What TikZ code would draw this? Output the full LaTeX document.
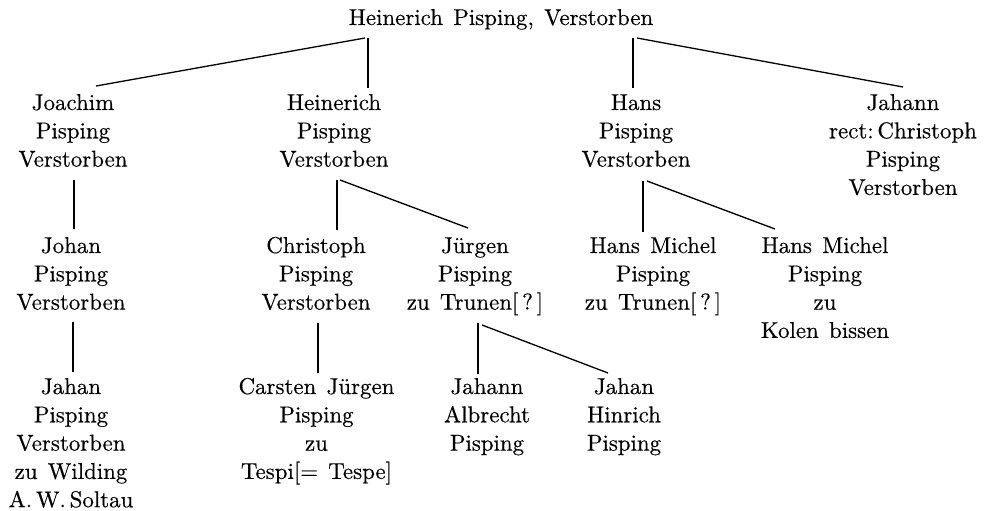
\documentclass[tikz,border=0pt]{standalone}
\usepackage{fontspec}
\setmainfont{lmroman10-regular.otf}[WordSpace=1.35,FakeBold=0.4]
\usetikzlibrary{calc}
\begin{document}
\begin{tikzpicture}[x=1pt,y=1pt,
  person/.style={anchor=base, align=center, inner sep=0pt, font=\fontsize{22.9}{28.3}\selectfont},
  link/.style={line width=1.3pt}]
\useasboundingbox (0,0) rectangle (989,-511);
% level 0 (node positions are at the baseline of the last line)
\node[person] (root) at (501,-25) {Heinerich Pisping, Verstorben};
% level 1
\node[person] (joachim) at (73,-166.6) {Joachim\\Pisping\\Verstorben};
\node[person] (heinerich) at (334,-166.6) {Heinerich\\Pisping\\Verstorben};
\node[person] (hans) at (636,-166.6) {Hans\\Pisping\\Verstorben};
\node[person] (jahann) at (903,-194.9) {Jahann\\rect:\,Christoph\\Pisping\\Verstorben};
% level 2
\node[person] (johan) at (71,-309.6) {Johan\\Pisping\\Verstorben};
\node[person] (christoph) at (316,-309.6) {Christoph\\Pisping\\Verstorben};
\node[person] (juergen) at (475,-309.6) {Jürgen\\Pisping\\zu Trunen[\,?\,]};
\node[person] (hmone) at (653,-309.6) {Hans Michel\\Pisping\\zu Trunen[\,?\,]};
\node[person] (hmtwo) at (825,-337.9) {Hans Michel\\Pisping\\zu\\Kolen bissen};
% level 3
\node[person] (jahan) at (71,-507.2) {Jahan\\Pisping\\Verstorben\\zu Wilding\\A.\,W.\,Soltau};
\node[person] (carsten) at (316.5,-478.9) {Carsten Jürgen\\Pisping\\zu\\Tespi[= Tespe]};
\node[person] (albrecht) at (487,-450.6) {Jahann\\Albrecht\\Pisping};
\node[person] (hinrich) at (624,-450.6) {Jahan\\Hinrich\\Pisping};
% connectors
\draw[link] ($(root.base)+(-136,-13)$) -- ($(joachim.base)+(23,80.6)$);
\draw[link] ($(root.base)+(-133,-13)$) -- ($(heinerich.base)+(34,78.6)$);
\draw[link] ($(root.base)+(132,-13)$) -- ($(hans.base)+(-3,78.6)$);
\draw[link] ($(root.base)+(136,-13)$) -- ($(jahann.base)+(0,107.9)$);
\draw[link] ($(joachim.base)+(1,-13.4)$) -- ($(johan.base)+(3,80.6)$);
\draw[link] ($(heinerich.base)+(3,-13.4)$) -- ($(christoph.base)+(21,79.6)$);
\draw[link] ($(heinerich.base)+(6,-13.4)$) -- ($(juergen.base)+(-7,81.6)$);
\draw[link] ($(hans.base)+(7,-14.4)$) -- ($(hmone.base)+(-10,77.6)$);
\draw[link] ($(hans.base)+(11,-14.4)$) -- ($(hmtwo.base)+(-50,108.9)$);
\draw[link] ($(johan.base)+(2,-12.4)$) -- ($(jahan.base)+(2,135.2)$);
\draw[link] ($(christoph.base)+(2,-13.4)$) -- ($(carsten.base)+(1.5,105.9)$);
\draw[link] ($(juergen.base)+(3,-13.4)$) -- ($(albrecht.base)+(-9,76.6)$);
\draw[link] ($(juergen.base)+(7,-15.4)$) -- ($(hinrich.base)+(-16,77.6)$);
\end{tikzpicture}
\end{document}
